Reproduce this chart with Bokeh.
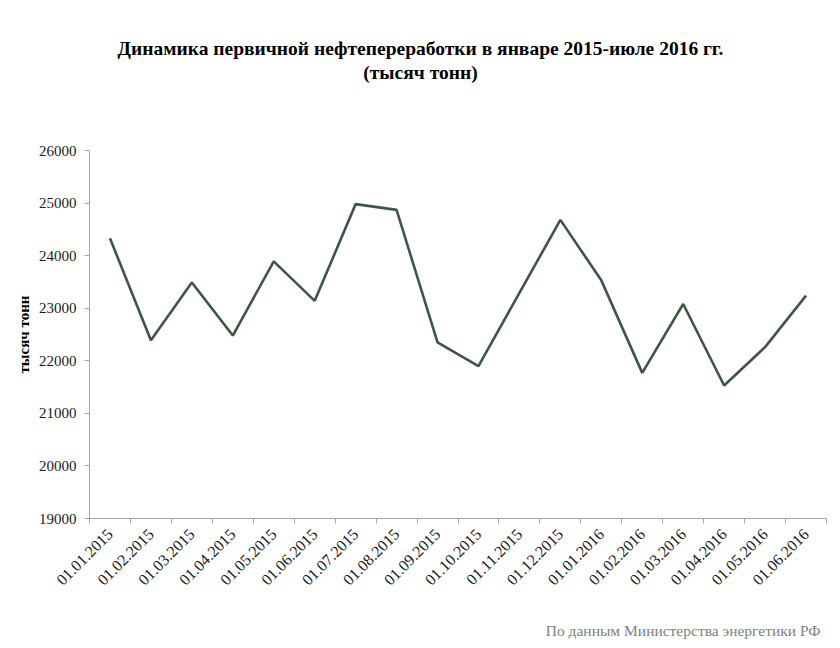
from bokeh.plotting import figure
from bokeh.models import Range1d, FixedTicker
from bokeh.layouts import column
from bokeh.core.properties import value
from bokeh.embed import file_html
from bokeh.resources import INLINE
import math

dates = ["01.01.2015", "01.02.2015", "01.03.2015", "01.04.2015", "01.05.2015",
         "01.06.2015", "01.07.2015", "01.08.2015", "01.09.2015", "01.10.2015",
         "01.11.2015", "01.12.2015", "01.01.2016", "01.02.2016", "01.03.2016",
         "01.04.2016", "01.05.2016", "01.06.2016"]
refining = [24330, 22390, 23490, 22480, 23890, 23140, 24980, 24870, 22350,
            21900, 23290, 24680, 23530, 21770, 23080, 21530, 22260, 23240]
y_ticks = [19000, 20000, 21000, 22000, 23000, 24000, 25000, 26000]

title_line1 = "Динамика первичной нефтепереработки в январе 2015-июле 2016 гг."
title_line2 = "(тысяч тонн)"
y_label = "тысяч тонн"
source_note = "По данным Министерства энергетики РФ"

n = len(dates)
xs = [i + 0.5 for i in range(n)]
FONT = "Liberation Serif"
W = 836
LEFT, RIGHT = 89, 10


def text_panel(height):
    # frames of plots in a column are aligned with the main chart's frame,
    # so map the frame to page pixels LEFT .. W-RIGHT
    f = figure(width=W, height=height, output_backend="svg", toolbar_location=None,
               x_range=Range1d(LEFT, W - RIGHT), y_range=Range1d(height, 0),
               x_axis_location=None, y_axis_location=None)
    f.min_border = 0
    f.outline_line_color = None
    f.xgrid.grid_line_color = None
    f.ygrid.grid_line_color = None
    f.background_fill_color = "white"
    f.border_fill_color = "white"
    return f


# ---- header with the two-line title
head = text_panel(100)
head.text(x=[420, 420], y=[48, 72], text=[title_line1, title_line2],
          text_align="center", text_baseline="middle", text_font=value(FONT),
          text_font_size="19.5px", text_font_style="bold", text_color="black")

# ---- main chart
p = figure(width=W, height=500, output_backend="svg", toolbar_location=None,
           x_range=Range1d(0, n), y_range=Range1d(19000, 26000))
p.min_border_left = LEFT
p.min_border_right = RIGHT
p.min_border_top = 50
p.min_border_bottom = 82
p.outline_line_color = None
p.background_fill_color = "white"
p.border_fill_color = "white"
p.xgrid.grid_line_color = None
p.ygrid.grid_line_color = None

p.line(xs, refining, line_color="#3d5744", line_width=2.6)

axis_color = "#a6a6a6"
xa = p.xaxis[0]
xa.ticker = FixedTicker(ticks=xs, minor_ticks=list(range(n + 1)))
xa.major_label_overrides = {x: d for x, d in zip(xs, dates)}
xa.major_label_orientation = math.pi / 4
xa.major_tick_line_color = None
xa.major_tick_out = 0
xa.major_tick_in = 0
xa.minor_tick_line_color = axis_color
xa.minor_tick_out = 5
xa.minor_tick_in = 0
xa.axis_line_color = axis_color
xa.major_label_text_font = FONT
xa.major_label_text_font_size = "16px"
xa.major_label_text_color = "#1a1a1a"
xa.major_label_standoff = 8

ya = p.yaxis[0]
ya.ticker = FixedTicker(ticks=y_ticks)
ya.minor_tick_line_color = None
ya.major_tick_line_color = axis_color
ya.major_tick_out = 5
ya.major_tick_in = 0
ya.axis_line_color = axis_color
ya.major_label_text_font = FONT
ya.major_label_text_font_size = "15px"
ya.major_label_text_color = "#1a1a1a"
ya.major_label_standoff = 8
ya.axis_label = y_label
ya.axis_label_text_font = FONT
ya.axis_label_text_font_size = "15px"
ya.axis_label_text_font_style = "bold"
ya.axis_label_text_color = "black"
ya.axis_label_standoff = 4

# ---- footer with the source note
foot = text_panel(40)
foot.text(x=[820], y=[30], text=[source_note], text_align="right",
          text_baseline="middle", text_font=value(FONT), text_font_size="15.5px",
          text_color="#808080")

layout = column(head, p, foot, spacing=0)
open("out.html", "w").write(file_html(layout, INLINE))
